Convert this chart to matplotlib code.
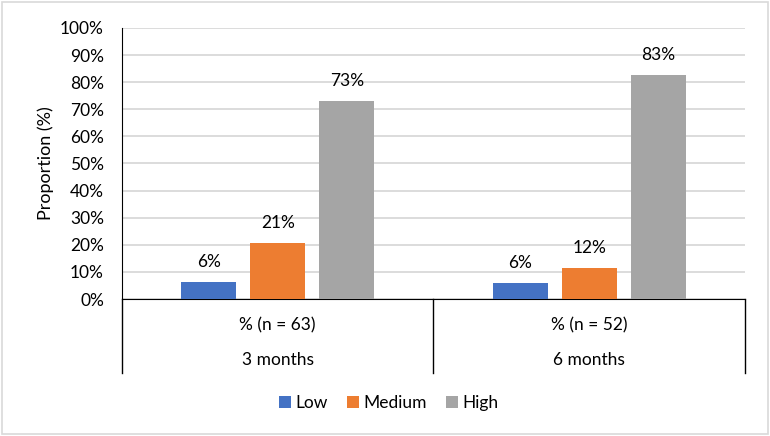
import numpy as np
import matplotlib.pyplot as plt
from matplotlib.patches import Rectangle

plt.rcParams['font.family'] = ['Lato', 'DejaVu Sans']

periods = ['3 months', '6 months']
samples = ['% (n = 63)', '% (n = 52)']
levels = ['Low', 'Medium', 'High']
low = [6.3, 5.8]
medium = [20.6, 11.5]
high = [73.0, 82.7]
colors = ['#4472c4', '#ed7d31', '#a5a5a5']

fig = plt.figure(figsize=(7.7, 4.36), dpi=100)
ax = fig.add_axes([0.1584, 0.3142, 0.8091, 0.6216])

x = np.arange(len(periods)) + 0.5
w = 0.177
step = 0.222
for i, (vals, lab, c) in enumerate(zip([low, medium, high], levels, colors)):
    pos = x + (i - 1) * step
    ax.bar(pos, vals, width=w, color=c, label=lab, zorder=3)
    for p, v in zip(pos, vals):
        ax.text(p, v + 7.4, '%d%%' % round(v), ha='center', va='center', fontsize=12.5, color='#000000')

ax.set_xlim(0, 2)
ax.set_ylim(0, 100)
ax.set_yticks(np.arange(0, 101, 10))
ax.set_yticklabels(['%d%%' % t for t in range(0, 101, 10)], fontsize=12.5)
ax.tick_params(axis='y', length=0, pad=13)
ax.set_xticks([])
ax.grid(axis='y', color='#d9d9d9', linewidth=1.3, zorder=0)
for s in ['top', 'right']:
    ax.spines[s].set_visible(False)
ax.spines['left'].set_color('#000000')
ax.spines['bottom'].set_color('#000000')
ax.set_ylabel('Proportion (%)', fontsize=13, labelpad=4)

# two level category axis
for xv in [0, 1, 2]:
    ax.plot([xv, xv], [0, -27.3], color='#000000', linewidth=1, clip_on=False)
for xi, s, p in zip(x, samples, periods):
    ax.text(xi, -9.6, s, ha='center', va='center', fontsize=12.5)
    ax.text(xi, -22.5, p, ha='center', va='center', fontsize=12.5)

handles, labels = ax.get_legend_handles_labels()
fig.legend(handles, labels, loc='center', bbox_to_anchor=(0.505, 0.076), ncol=3, frameon=False,
           fontsize=12.5, handlelength=0.7, handleheight=0.7, handletextpad=0.25,
           columnspacing=1.1)

fig.patches.append(Rectangle((0.002, 0.004), 0.996, 0.992, transform=fig.transFigure,
                             fill=False, edgecolor='#d9d9d9', linewidth=1.2))

fig.savefig('out.png', dpi=100)
